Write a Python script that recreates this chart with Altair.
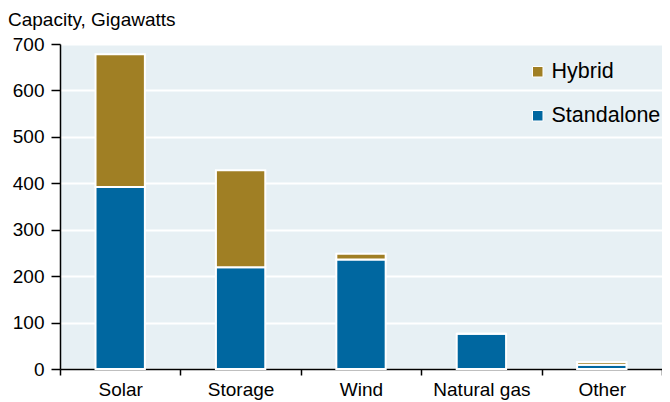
import altair as alt
import pandas as pd

categories = ["Solar", "Storage", "Wind", "Natural gas", "Other"]
standalone = [392, 219, 236, 76, 9]
hybrid = [286, 209, 12, 0, 6]
series = ["Hybrid", "Standalone"]
y_title = "Capacity, Gigawatts"

rows = []
for c, s, h in zip(categories, standalone, hybrid):
    rows.append({"cat": c, "type": "Standalone", "value": s, "ord": 0})
    rows.append({"cat": c, "type": "Hybrid", "value": h, "ord": 1})
df = pd.DataFrame(rows)

FONT = "Liberation Sans"

bars = alt.Chart(df).mark_bar(
    width=alt.RelativeBandSize(0.41), stroke="white", strokeWidth=2
).encode(
    x=alt.X("cat:N", sort=categories, title=None,
            scale=alt.Scale(paddingInner=0, paddingOuter=0),
            axis=alt.Axis(labelAngle=0, tickBand="extent", domainColor="black",
                          domainWidth=1.5, tickColor="black", tickWidth=1.5, tickSize=6,
                          labelFontSize=19, labelColor="black", labelFont=FONT,
                          labelPadding=5, grid=False)),
    y=alt.Y("value:Q", stack="zero", title=None,
            scale=alt.Scale(domain=[0, 700], nice=False),
            axis=alt.Axis(values=[0, 100, 200, 300, 400, 500, 600, 700],
                          domainColor="black", domainWidth=1.5, tickColor="black",
                          tickWidth=1.5, tickSize=9, labelFontSize=19, labelColor="black",
                          labelFont=FONT, labelPadding=7, gridColor="white", gridWidth=2)),
    color=alt.Color("type:N", scale=alt.Scale(domain=series, range=["#A07F24", "#0067A0"]),
                    legend=alt.Legend(title=None, orient="none", legendX=467, legendY=17,
                                      symbolType="square", symbolSize=110,
                                      symbolStrokeColor="white", symbolStrokeWidth=1,
                                      labelFontSize=21.5, labelFont=FONT, labelColor="black",
                                      rowPadding=21, labelOffset=3)),
    order=alt.Order("ord:Q"),
)

title = alt.Chart(pd.DataFrame({"t": [y_title]})).mark_text(
    align="left", baseline="alphabetic", font=FONT, fontSize=19, color="black"
).encode(
    text="t:N", x=alt.value(-52), y=alt.value(-18)
)

chart = alt.layer(bars, title).properties(
    width=602, height=325,
    autosize=alt.AutoSizeParams(type="none"),
    padding={"left": 52, "top": 36, "right": 0, "bottom": 33},
    background="white",
).configure_view(
    fill="#E7F0F4", stroke=None
)

chart.save("out.html", embed_options={"renderer": "svg", "actions": False})
